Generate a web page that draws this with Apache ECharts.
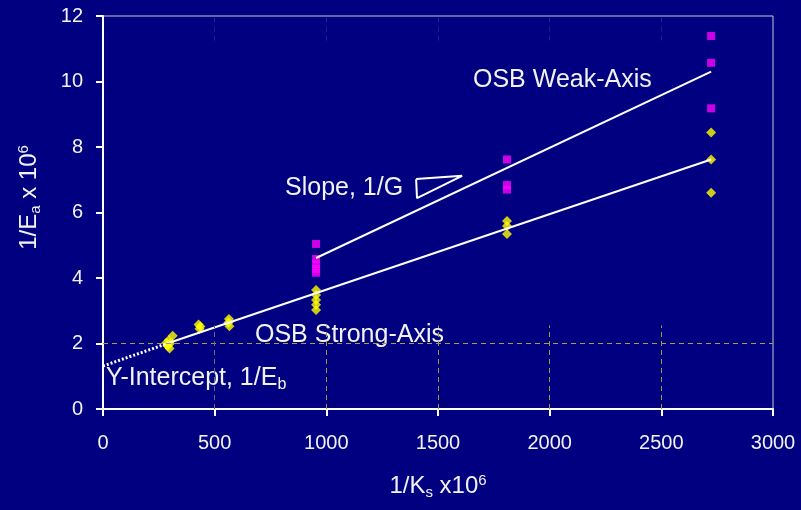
<!DOCTYPE html>
<html>
<head>
<meta charset="utf-8">
<script src="https://cdn.jsdelivr.net/npm/echarts@6/dist/echarts.min.js"></script>
<style>
  html, body { margin: 0; padding: 0; background: #000080; }
  #main { width: 801px; height: 510px; }
</style>
</head>
<body>
<div id="main"></div>
<script>
    // data: [1/Ks x1e6, 1/Ea x1e6]
    var strongPts = [
        [284, 2.02], [290, 1.92], [294, 2.10], [298, 1.85], [300, 2.00], [288, 1.95], [312, 2.24],
        [428, 2.58], [432, 2.45], [436, 2.52],
        [564, 2.75], [566, 2.53], [562, 2.64],
        [954, 3.63], [954, 3.48], [954, 3.33], [954, 3.18], [954, 3.02],
        [1809, 5.74], [1809, 5.59], [1809, 5.34],
        [2723, 8.44], [2723, 7.62], [2723, 6.60]
    ];
    var weakPts = [
        [954, 5.04], [954, 4.58], [954, 4.42], [954, 4.28], [954, 4.16],
        [1809, 7.62], [1809, 6.84], [1809, 6.70],
        [2723, 11.39], [2723, 10.57], [2723, 9.18]
    ];
    // fitted lines
    var strongFit = [[287, 2.0], [2723, 7.62]];
    var weakFit = [[954, 4.61], [2723, 10.3]];
    var interceptLine = [[0, 1.31], [287, 2.0]];
    var slopeTriangle = [[1402, 7.02], [1608, 7.12], [1406, 6.44], [1402, 7.02]];
    var xTicks = [500, 1000, 1500, 2000, 2500];

    var myChart = echarts.init(document.getElementById('main'));

    var font = 'Liberation Sans, Arial, sans-serif';
    var txt = '#f2f2f2';

    // vertical dashed stubs (lower + faint top)
    var vLines = [];
    xTicks.forEach(function (x) {
        vLines.push([{coord: [x, 0], lineStyle: {color: x === 500 ? '#6a6a7a' : '#9c9c30'}}, {coord: [x, 2.55]}]);
        vLines.push([{coord: [x, 11.25], lineStyle: {color: '#1c1ca0'}}, {coord: [x, 12]}]);
    });

    var titleRich = {
        m: {fontSize: 24, color: txt, fontFamily: font},
        sub: {fontSize: 15, color: txt, fontFamily: font, verticalAlign: 'bottom', padding: [12, 0, 0, 0]},
        sup: {fontSize: 15, color: txt, fontFamily: font, verticalAlign: 'top', padding: [0, 0, 12, 0]}
    };

    var option = {
        backgroundColor: '#000080',
        animation: false,
        textStyle: {fontFamily: font},
        grid: {
            left: 103, right: 28, top: 16, bottom: 101,
            show: true, borderColor: '#c8c8d8', borderWidth: 1, backgroundColor: '#000080'
        },
        xAxis: {
            type: 'value', min: 0, max: 3000, interval: 500,
            axisLine: {onZero: false, lineStyle: {color: '#ffffff', width: 2}},
            axisTick: {show: true, length: 7, lineStyle: {color: '#ffffff', width: 2}},
            axisLabel: {color: txt, fontSize: 20, margin: 24, fontFamily: font, formatter: function (v) { return String(v); }},
            splitLine: {show: false},
            name: '{m|1/K}{sub|s}{m| x10}{sup|6}',
            nameLocation: 'middle', nameGap: 64,
            nameTextStyle: {rich: titleRich}
        },
        yAxis: {
            type: 'value', min: 0, max: 12, interval: 2,
            axisLine: {onZero: false, lineStyle: {color: '#ffffff', width: 2}},
            axisTick: {show: true, length: 7, lineStyle: {color: '#ffffff', width: 2}},
            axisLabel: {color: txt, fontSize: 20, margin: 20, fontFamily: font},
            splitLine: {show: false},
            name: '{m|1/E}{sub|a}{m| x 10}{sup|6}',
            nameLocation: 'middle', nameGap: 60, nameRotate: 90,
            nameTextStyle: {rich: titleRich, padding: [0, 0, 0, 30]}
        },
        series: [
            {
                type: 'scatter', data: strongPts, symbol: 'diamond', symbolSize: 10,
                itemStyle: {color: '#ffff00'}, z: 3,
                markLine: {
                    silent: true, symbol: 'none', label: {show: false},
                    lineStyle: {type: [5, 4], width: 1},
                    data: [[{coord: [0, 2], lineStyle: {color: '#a8a040'}}, {coord: [3000, 2]}]].concat(vLines)
                }
            },
            {
                type: 'scatter', data: weakPts, symbol: 'rect', symbolSize: 8,
                itemStyle: {color: '#ff00ff'}, z: 3
            },
            {
                type: 'line', data: strongFit, symbol: 'none', z: 4,
                lineStyle: {color: '#ffffff', width: 2}
            },
            {
                type: 'line', data: weakFit, symbol: 'none', z: 4,
                lineStyle: {color: '#ffffff', width: 2}
            },
            {
                type: 'line', data: interceptLine, symbol: 'none', z: 4,
                lineStyle: {color: '#ffffff', width: 3, type: [2, 2]}
            },
            {
                type: 'line', data: slopeTriangle, symbol: 'none', z: 4,
                lineStyle: {color: '#ffffff', width: 2}
            }
        ],
        graphic: [
            {type: 'text', left: 473, top: 68, style: {text: 'OSB Weak-Axis', fill: txt, font: '25px ' + font}},
            {type: 'text', left: 285, top: 176, style: {text: 'Slope, 1/G', fill: txt, font: '25px ' + font}},
            {type: 'text', left: 255, top: 323, style: {text: 'OSB Strong-Axis', fill: txt, font: '25px ' + font}},
            {
                type: 'text', left: 106, top: 366,
                style: {
                    text: '{m|Y-Intercept, 1/E}{sub|b}',
                    rich: {
                        m: {fontSize: 25, fill: txt, fontFamily: font},
                        sub: {fontSize: 16, fill: txt, fontFamily: font, verticalAlign: 'bottom', padding: [13, 0, 0, 0]}
                    }
                }
            }
        ]
    };
    myChart.setOption(option);
</script>
</body>
</html>
